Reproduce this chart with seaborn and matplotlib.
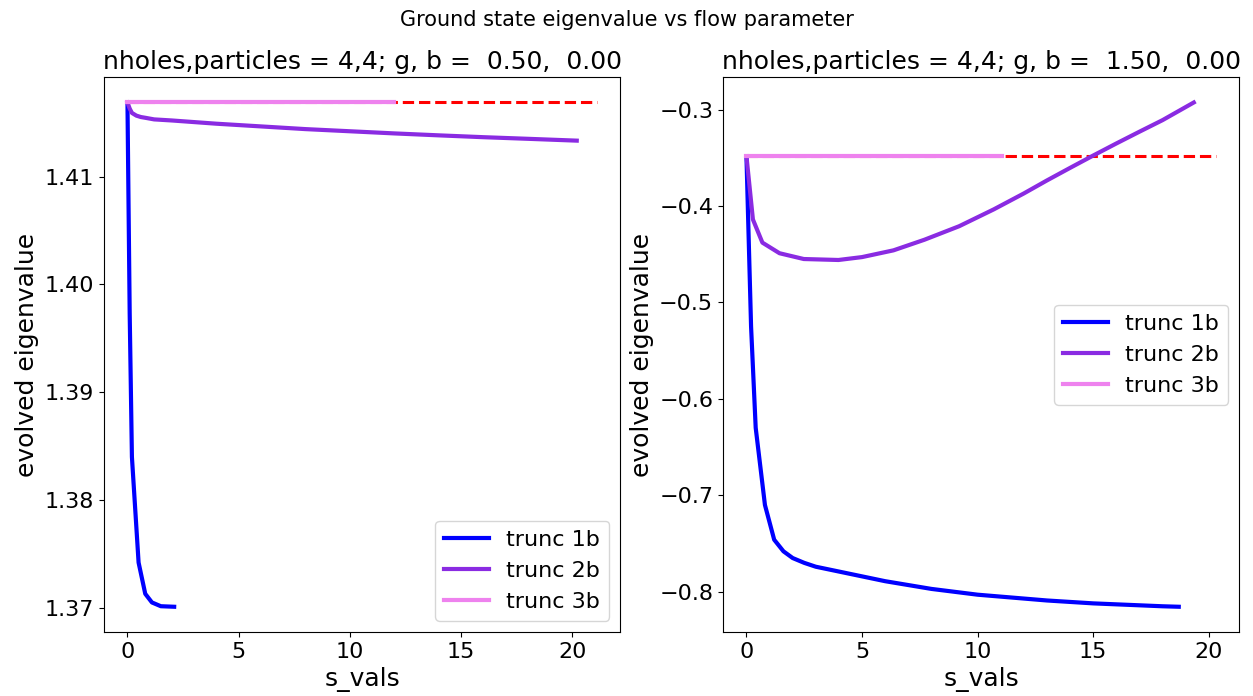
import matplotlib
matplotlib.use("Agg")
import matplotlib.pyplot as plt
import seaborn as sns

# ---------------- data ----------------
# left panel: g = 0.50
L_exact_s = [0.0, 21.1]
L_exact_v = [1.41687, 1.41687]

L_1b_s = [0.0, 0.1, 0.2, 0.5, 0.8, 1.1, 1.5, 2.1]
L_1b_v = [1.41687, 1.3973, 1.3840, 1.3742, 1.3713, 1.3705, 1.37015, 1.3701]

L_2b_s = [0.0, 0.1, 0.2, 0.4, 0.6, 0.8, 1.2, 2.0, 4.0, 6.0, 8.0, 10.0,
          12.0, 14.0, 16.0, 18.0, 20.2]
L_2b_v = [1.41687, 1.4163, 1.4159, 1.41565, 1.41552, 1.41545, 1.4153,
          1.4152, 1.4149, 1.41465, 1.4144, 1.4142, 1.41400, 1.41382,
          1.41365, 1.41350, 1.41333]

L_3b_s = [0.0, 12.0]
L_3b_v = [1.41687, 1.41687]

# right panel: g = 1.50
R_exact_s = [0.0, 20.3]
R_exact_v = [-0.3484, -0.3484]

R_1b_s = [0.0, 0.2, 0.4, 0.8, 1.2, 1.6, 2.0, 2.5, 3.0, 4.0, 5.0, 6.0, 7.0,
          8.0, 9.0, 10.0, 11.0, 12.0, 13.0, 14.0, 15.0, 16.0, 17.0, 18.0, 18.7]
R_1b_v = [-0.3484, -0.525, -0.630, -0.710, -0.746, -0.758, -0.765, -0.770,
          -0.774, -0.779, -0.784, -0.789, -0.793, -0.797, -0.800, -0.803,
          -0.805, -0.807, -0.809, -0.8105, -0.812, -0.813, -0.814, -0.815,
          -0.8155]

R_2b_s = [0.0, 0.28, 0.69, 1.43, 2.48, 3.98, 5.0, 6.36, 7.7, 9.2, 10.7,
          12.0, 13.0, 14.0, 15.0, 16.0, 17.0, 18.0, 19.35]
R_2b_v = [-0.3484, -0.414, -0.438, -0.449, -0.455, -0.456, -0.453, -0.446,
          -0.435, -0.421, -0.4035, -0.387, -0.3735, -0.3605, -0.3477,
          -0.3352, -0.3230, -0.3110, -0.2927]

R_3b_s = [0.0, 11.04]
R_3b_v = [-0.3484, -0.3484]

titles = ["nholes,particles = 4,4; g, b =  0.50,  0.00",
          "nholes,particles = 4,4; g, b =  1.50,  0.00"]
labels = ["trunc 1b", "trunc 2b", "trunc 3b"]
colors = ["blue", "blueviolet", "violet"]

# ---------------- figure ----------------
fig = plt.figure(figsize=(12.53, 6.96), dpi=100)
ax1 = fig.add_axes([0.083, 0.092, 0.412, 0.797])
ax2 = fig.add_axes([0.577, 0.092, 0.412, 0.797])

panels = [
    (ax1, (L_exact_s, L_exact_v), [(L_1b_s, L_1b_v), (L_2b_s, L_2b_v), (L_3b_s, L_3b_v)], "lower right"),
    (ax2, (R_exact_s, R_exact_v), [(R_1b_s, R_1b_v), (R_2b_s, R_2b_v), (R_3b_s, R_3b_v)], "center right"),
]

for i, (ax, exact, series, loc) in enumerate(panels):
    sns.lineplot(x=exact[0], y=exact[1], ax=ax, color="red", linestyle="--",
                 linewidth=2.2, legend=False, zorder=1)
    for (s, v), lab, c in zip(series, labels, colors):
        sns.lineplot(x=s, y=v, ax=ax, color=c, linewidth=3, label=lab, zorder=2)
    ax.set_title(titles[i], fontsize=18)
    ax.set_xlabel("s_vals", fontsize=18)
    ax.set_ylabel("evolved eigenvalue", fontsize=18)
    ax.tick_params(labelsize=16)
    ax.set_xticks([0, 5, 10, 15, 20])
    ax.legend(loc=loc, fontsize=16)

ax1.set_yticks([1.37, 1.38, 1.39, 1.40, 1.41])
ax2.set_yticks([-0.8, -0.7, -0.6, -0.5, -0.4, -0.3])

fig.suptitle("Ground state eigenvalue vs flow parameter", fontsize=15, y=0.985)

fig.savefig("out.png", dpi=100)
